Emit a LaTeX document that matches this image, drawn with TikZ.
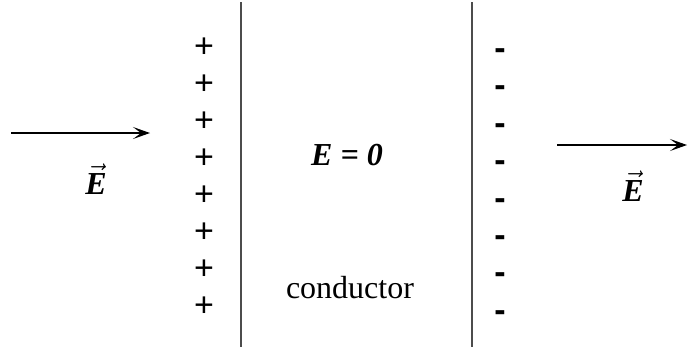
\documentclass[tikz,border=0pt]{standalone}
\usepackage{fontspec}
\setmainfont{Liberation Serif}
\newfontfamily\signfont{Liberation Sans}
\usetikzlibrary{arrows.meta}

\begin{document}
\begin{tikzpicture}[
  x=0.5pt, y=-0.5pt,
  label/.style={font=\fontsize{16}{19}\selectfont, inner sep=0pt},
  charge/.style={font=\signfont\fontsize{17}{20}\selectfont, inner sep=0pt, anchor=base},
  arrow/.style={-{Stealth[length=8.5pt,width=6pt,inset=4pt]}, line width=0.6pt},
  plate/.style={draw=black!70, line width=0.6pt}
]
\useasboundingbox (0,0) rectangle (688,349);

\draw[plate] (241,2) -- (241,347);
\draw[plate] (472,2) -- (472,347);

\foreach \i in {0,...,7} {
  \node[charge] (plus\i) at (204, 57+37.1*\i) {+};
  \node[charge, font=\signfont\bfseries\fontsize{17}{20}\selectfont] (minus\i) at (500, 59.5+37.4*\i) {-};
}

\coordinate (inL) at (11,133);
\coordinate (inR) at (150,133);
\coordinate (outL) at (557,145);
\coordinate (outR) at (687,145);

\node[label] (Ein) at (96,179) {$\vec{\mbox{\bfseries\itshape E}}$};
\node[label] (Eout) at (633,186) {$\vec{\mbox{\bfseries\itshape E}}$};
\node[label] (field) at (347,155) {\bfseries\itshape E = 0};
\node[label] (cond) at (350,288) {conductor};

\draw[arrow] (inL) -- (inR);
\draw[arrow] (outL) -- (outR);

\end{tikzpicture}
\end{document}
